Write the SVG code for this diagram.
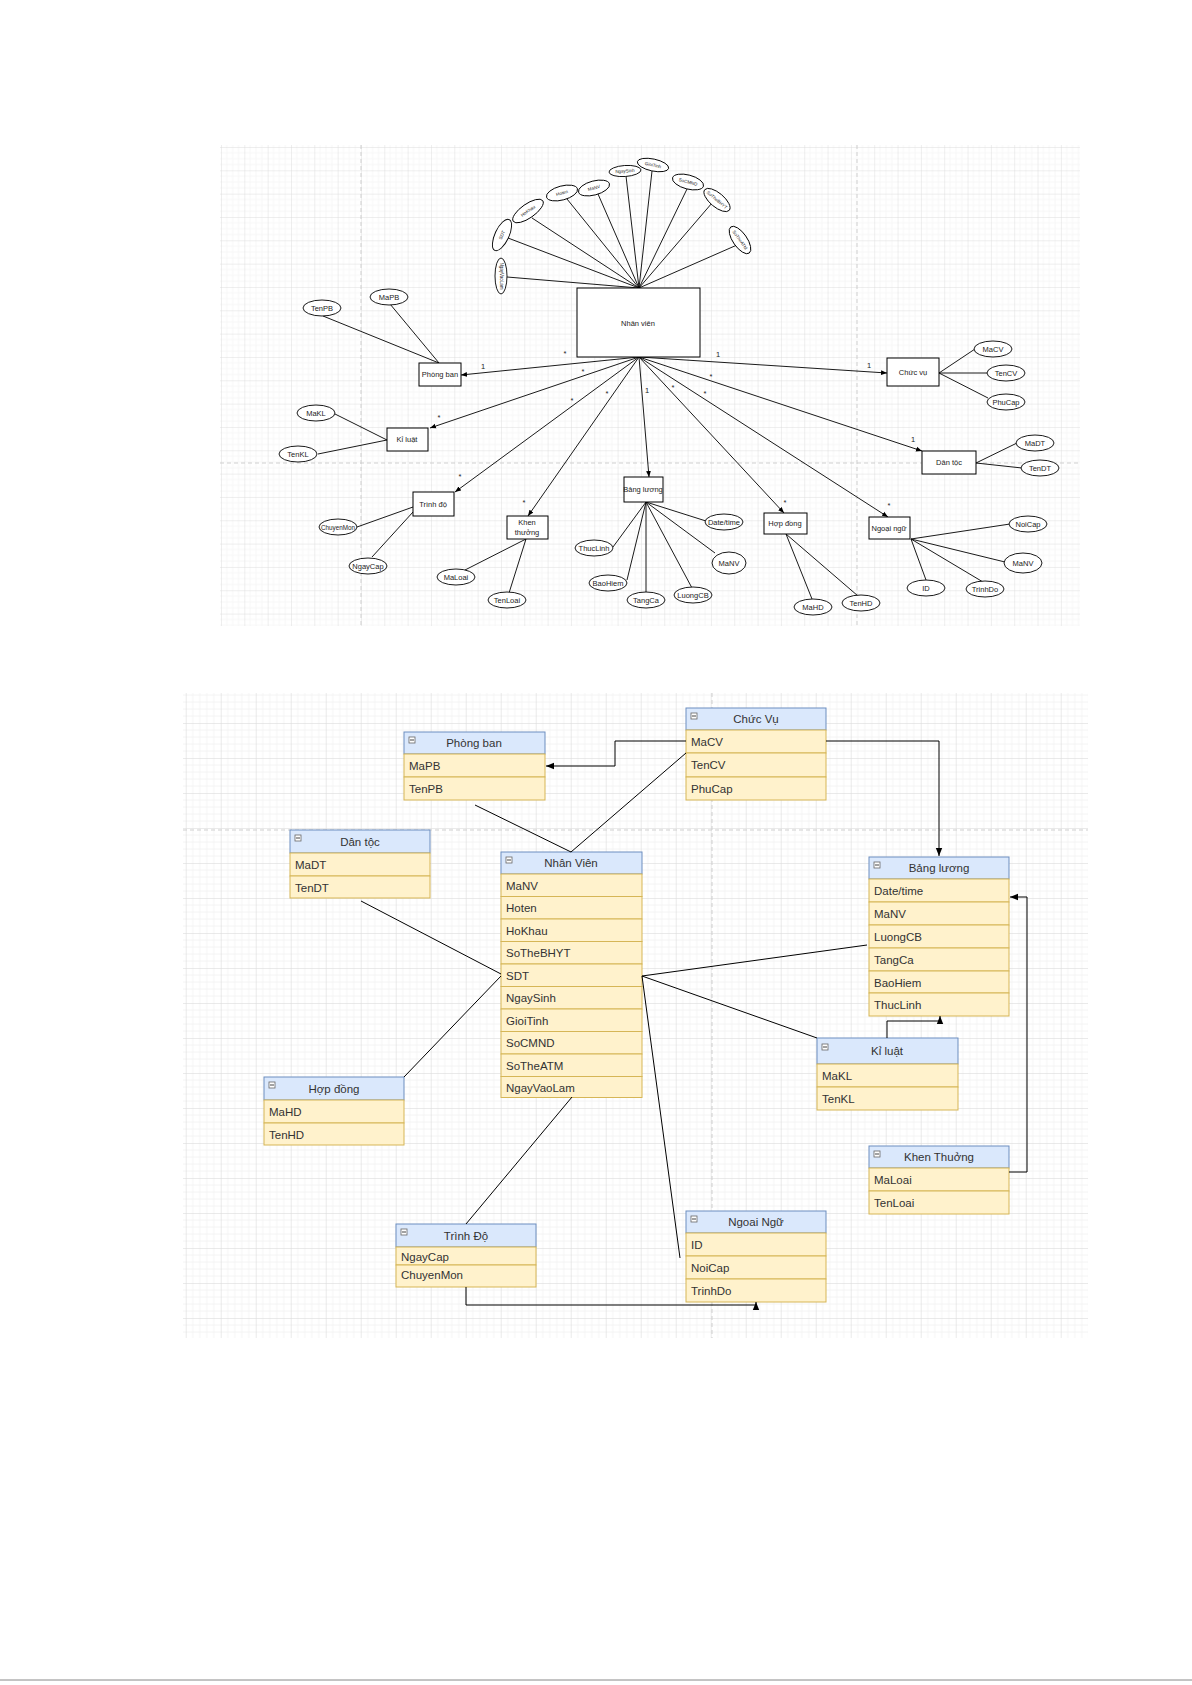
<svg xmlns="http://www.w3.org/2000/svg" width="1192" height="1685" viewBox="0 0 1192 1685">
<defs>
<pattern id="g1" x="221" y="147" width="23.33" height="23.33" patternUnits="userSpaceOnUse">
<path d="M5.83,0V23.33M11.66,0V23.33M17.5,0V23.33M0,5.83H23.33M0,11.66H23.33M0,17.5H23.33" stroke="#f3f3f3" stroke-width="0.7" fill="none"/>
<path d="M0,0V23.33M0,0H23.33" stroke="#dadada" stroke-width="0.9" fill="none"/>
</pattern>
<pattern id="g2" x="185.7" y="688" width="35" height="35" patternUnits="userSpaceOnUse">
<path d="M7,0V35M14,0V35M21,0V35M28,0V35M0,7H35M0,14H35M0,21H35M0,28H35" stroke="#f1f1f1" stroke-width="0.8" fill="none"/>
<path d="M0,0V35M0,0H35" stroke="#d6d6d6" stroke-width="1" fill="none"/>
</pattern>
<marker id="a" viewBox="0 0 10 10" refX="10" refY="5" markerWidth="6" markerHeight="6" markerUnits="userSpaceOnUse" orient="auto"><path d="M0,1L10,5L0,9Z" fill="#000"/></marker>
<marker id="b" viewBox="0 0 10 10" refX="10" refY="5" markerWidth="8" markerHeight="8" markerUnits="userSpaceOnUse" orient="auto"><path d="M0,1L10,5L0,9Z" fill="#000"/></marker>
</defs>
<style>
.t{font-family:"Liberation Sans",Arial,sans-serif;fill:#222}
.er{fill:#fff;stroke:#000;stroke-width:1}
.el{fill:#fff;stroke:#000;stroke-width:0.9}
.ln{stroke:#000;stroke-width:0.9;fill:none}
.s7{font-size:7.5px}
.s6{font-size:6.3px}
.s5{font-size:4.5px}
.hd{fill:#dae8fc;stroke:#6c8ebf;stroke-width:1}
.rw{fill:#fff2cc;stroke:#d6b656;stroke-width:1}
.tt{font-family:"Liberation Sans",Arial,sans-serif;font-size:11.5px;fill:#333}
.ic{fill:#fff;stroke:#666;stroke-width:0.8}
.dash{stroke:#cfcfcf;stroke-width:1;stroke-dasharray:4,3;fill:none}
.ln2{stroke:#000;stroke-width:1;fill:none}
</style>
<rect width="1192" height="1685" fill="#fff"/>

<!-- ============ TOP ER DIAGRAM ============ -->
<rect x="220" y="145" width="860" height="481" fill="url(#g1)"/>
<path class="dash" d="M220,463H1080M361,145V626M857,145V626"/>

<g id="top-connectors">
<g class="ln">
<path d="M639,288L507,277M639,288L508,238M639,288L532,218M639,288L567,199M639,288L598,194M639,288L626,176M639,288L652,171M639,288L687,189M639,288L712,203M639,288L737,245"/>
<path d="M439,363L323,316M439,363L390,304"/>
<path d="M939,373L975,349M939,373L987,373M939,373L988,398"/>
<path d="M387,440L333,413M387,440L318,454"/>
<path d="M413,507L357,527M413,512L372,557"/>
<path d="M526,539L465,570M526,539L509,593"/>
<path d="M646,502L706,521M646,502L715,553M646,502L692,588M646,502L646,592M646,502L627,580M646,502L613,547"/>
<path d="M786,534L812,599M786,534L858,596"/>
<path d="M911,539L1010,524M911,539L1005,562M911,539L983,582M911,539L926,580"/>
<path d="M976,463L1017,443M976,463L1022,468"/>
</g>
<g class="ln" marker-end="url(#a)">
<path d="M639,357L461,375"/>
<path d="M639,357L887,373"/>
<path d="M639,357L430,428"/>
<path d="M639,357L455,492"/>
<path d="M639,357L528,516"/>
<path d="M639,357L649,477"/>
<path d="M639,357L784,513"/>
<path d="M639,357L888,517"/>
<path d="M639,357L922,451"/>
</g>
<g class="t s7" text-anchor="middle">
<text x="565" y="356">*</text><text x="483" y="369">1</text>
<text x="718" y="357">1</text><text x="869" y="368">1</text>
<text x="583" y="374">*</text><text x="439" y="420">*</text>
<text x="572" y="403">*</text><text x="460" y="479">*</text>
<text x="607" y="396">*</text><text x="524" y="505">*</text>
<text x="647" y="393">1</text>
<text x="673" y="390">*</text><text x="785" y="505">*</text>
<text x="705" y="396">*</text><text x="889" y="508">*</text>
<text x="711" y="379">*</text><text x="913" y="442">1</text>
</g>
</g>

<g id="er-nhanvien"><rect class="er" x="577" y="288" width="123" height="69"/><text class="t s7" x="638" y="326" text-anchor="middle">Nhân viên</text></g>
<g id="er-phongban"><rect class="er" x="419" y="363" width="42" height="23"/><text class="t s7" x="440" y="377" text-anchor="middle">Phòng ban</text></g>
<g id="er-chucvu"><rect class="er" x="887" y="358" width="52" height="28"/><text class="t s7" x="913" y="375" text-anchor="middle">Chức vụ</text></g>
<g id="er-kiluat"><rect class="er" x="387" y="428" width="41" height="23"/><text class="t s7" x="407" y="442" text-anchor="middle">Kỉ luật</text></g>
<g id="er-dantoc"><rect class="er" x="922" y="451" width="54" height="23"/><text class="t s7" x="949" y="465" text-anchor="middle">Dân tộc</text></g>
<g id="er-trinhdo"><rect class="er" x="413" y="492" width="41" height="24"/><text class="t s7" x="433" y="507" text-anchor="middle">Trình độ</text></g>
<g id="er-khenthuong"><rect class="er" x="507" y="516" width="41" height="23"/><text class="t s7" x="527" y="525" text-anchor="middle">Khen</text><text class="t s7" x="527" y="535" text-anchor="middle">thưởng</text></g>
<g id="er-bangluong"><rect class="er" x="624" y="477" width="39" height="25"/><text class="t s7" x="643" y="492" text-anchor="middle">Bảng lương</text></g>
<g id="er-hopdong"><rect class="er" x="764" y="513" width="43" height="21"/><text class="t s7" x="785" y="526" text-anchor="middle">Hợp đồng</text></g>
<g id="er-ngoaingu"><rect class="er" x="869" y="517" width="41" height="22"/><text class="t s7" x="889" y="531" text-anchor="middle">Ngoại ngữ</text></g>

<g id="er-attr-nhanvien" class="t s5" text-anchor="middle">
<g transform="translate(501,276) rotate(90)"><ellipse class="el" rx="18" ry="6"/><text y="1.5">NgayVaoLam</text></g>
<g transform="translate(502,235) rotate(-65)"><ellipse class="el" rx="17" ry="7"/><text y="1.5">SDT</text></g>
<g transform="translate(528,211) rotate(-35)"><ellipse class="el" rx="18" ry="7"/><text y="1.5">HoKhau</text></g>
<g transform="translate(562,193) rotate(-15)"><ellipse class="el" rx="16" ry="7"/><text y="1.5">Hoten</text></g>
<g transform="translate(594,188) rotate(-15)"><ellipse class="el" rx="16" ry="7"/><text y="1.5">MaNV</text></g>
<g transform="translate(625,171) rotate(-4)"><ellipse class="el" rx="16" ry="5.5"/><text y="1.5">NgaySinh</text></g>
<g transform="translate(653,165) rotate(12)"><ellipse class="el" rx="16" ry="6"/><text y="1.5">GioiTinh</text></g>
<g transform="translate(688,182) rotate(15)"><ellipse class="el" rx="16" ry="7"/><text y="1.5">SoCMND</text></g>
<g transform="translate(717,200) rotate(40)"><ellipse class="el" rx="16" ry="7"/><text y="1.5">SoTheBHYT</text></g>
<g transform="translate(740,240) rotate(55)"><ellipse class="el" rx="16" ry="7"/><text y="1.5">SoTheATM</text></g>
</g>

<g id="er-attrs" class="t s7" text-anchor="middle">
<g id="a-tenpb"><ellipse class="el" cx="322" cy="308" rx="19" ry="8"/><text x="322" y="311">TenPB</text></g>
<g id="a-mapb"><ellipse class="el" cx="389" cy="297" rx="19" ry="8"/><text x="389" y="300">MaPB</text></g>
<g id="a-macv"><ellipse class="el" cx="993" cy="349" rx="19" ry="8"/><text x="993" y="352">MaCV</text></g>
<g id="a-tencv"><ellipse class="el" cx="1006" cy="373" rx="19" ry="8"/><text x="1006" y="376">TenCV</text></g>
<g id="a-phucap"><ellipse class="el" cx="1006" cy="402" rx="19" ry="8"/><text x="1006" y="405">PhuCap</text></g>
<g id="a-makl"><ellipse class="el" cx="316" cy="413" rx="19" ry="8"/><text x="316" y="416">MaKL</text></g>
<g id="a-tenkl"><ellipse class="el" cx="298" cy="454" rx="19" ry="8"/><text x="298" y="457">TenKL</text></g>
<g id="a-chuyenmon"><ellipse class="el" cx="338" cy="527" rx="19" ry="8"/><text class="s6" x="338" y="529.5">ChuyenMon</text></g>
<g id="a-ngaycap"><ellipse class="el" cx="368" cy="566" rx="19" ry="8"/><text x="368" y="569">NgayCap</text></g>
<g id="a-maloai"><ellipse class="el" cx="456" cy="577" rx="19" ry="8"/><text x="456" y="580">MaLoai</text></g>
<g id="a-tenloai"><ellipse class="el" cx="507" cy="600" rx="19" ry="8"/><text x="507" y="603">TenLoai</text></g>
<g id="a-datetime"><ellipse class="el" cx="724" cy="522" rx="19" ry="8"/><text x="724" y="525">Date/time</text></g>
<g id="a-manv1"><ellipse class="el" cx="729" cy="563" rx="17" ry="11"/><text x="729" y="566">MaNV</text></g>
<g id="a-luongcb"><ellipse class="el" cx="693" cy="595" rx="19" ry="8"/><text x="693" y="598">LuongCB</text></g>
<g id="a-tangca"><ellipse class="el" cx="646" cy="600" rx="19" ry="8"/><text x="646" y="603">TangCa</text></g>
<g id="a-baohiem"><ellipse class="el" cx="608" cy="583" rx="19" ry="8"/><text x="608" y="586">BaoHiem</text></g>
<g id="a-thuclinh"><ellipse class="el" cx="594" cy="548" rx="19" ry="8"/><text x="594" y="551">ThucLinh</text></g>
<g id="a-mahd"><ellipse class="el" cx="813" cy="607" rx="19" ry="8"/><text x="813" y="610">MaHD</text></g>
<g id="a-tenhd"><ellipse class="el" cx="861" cy="603" rx="19" ry="8"/><text x="861" y="606">TenHD</text></g>
<g id="a-noicap"><ellipse class="el" cx="1028" cy="524" rx="19" ry="8"/><text x="1028" y="527">NoiCap</text></g>
<g id="a-manv2"><ellipse class="el" cx="1023" cy="563" rx="19" ry="10"/><text x="1023" y="566">MaNV</text></g>
<g id="a-trinhdo"><ellipse class="el" cx="985" cy="589" rx="19" ry="8"/><text x="985" y="592">TrinhDo</text></g>
<g id="a-id"><ellipse class="el" cx="926" cy="588" rx="19" ry="8"/><text x="926" y="591">ID</text></g>
<g id="a-madt"><ellipse class="el" cx="1035" cy="443" rx="19" ry="8"/><text x="1035" y="446">MaDT</text></g>
<g id="a-tendt"><ellipse class="el" cx="1040" cy="468" rx="19" ry="8"/><text x="1040" y="471">TenDT</text></g>
</g>

<!-- ============ BOTTOM TABLE DIAGRAM ============ -->
<rect x="183" y="693" width="905" height="645" fill="url(#g2)"/>
<path class="dash" d="M183,830H1088M712,693V1338"/>

<g id="t-phongban">
<rect class="hd" x="404" y="732" width="141" height="22"/><rect class="ic" x="409" y="737" width="6" height="6"/><path d="M410,740H414" stroke="#444"/>
<text class="tt" x="474" y="747" text-anchor="middle">Phòng ban</text>
<rect class="rw" x="404" y="754" width="141" height="23"/><text class="tt" x="409" y="770">MaPB</text>
<rect class="rw" x="404" y="777" width="141" height="23"/><text class="tt" x="409" y="793">TenPB</text>
</g>
<g id="t-chucvu">
<rect class="hd" x="686" y="708" width="140" height="22"/><rect class="ic" x="691" y="713" width="6" height="6"/><path d="M692,716H696" stroke="#444"/>
<text class="tt" x="756" y="723" text-anchor="middle">Chức Vụ</text>
<rect class="rw" x="686" y="730" width="140" height="23"/><text class="tt" x="691" y="746">MaCV</text>
<rect class="rw" x="686" y="753" width="140" height="24"/><text class="tt" x="691" y="769">TenCV</text>
<rect class="rw" x="686" y="777" width="140" height="23"/><text class="tt" x="691" y="793">PhuCap</text>
</g>
<g id="t-dantoc">
<rect class="hd" x="290" y="830" width="140" height="23"/><rect class="ic" x="295" y="835" width="6" height="6"/><path d="M296,838H300" stroke="#444"/>
<text class="tt" x="360" y="846" text-anchor="middle">Dân tộc</text>
<rect class="rw" x="290" y="853" width="140" height="23"/><text class="tt" x="295" y="869">MaDT</text>
<rect class="rw" x="290" y="876" width="140" height="22"/><text class="tt" x="295" y="892">TenDT</text>
</g>
<g id="t-nhanvien">
<rect class="hd" x="501" y="852" width="141" height="22"/><rect class="ic" x="506" y="857" width="6" height="6"/><path d="M507,860H511" stroke="#444"/>
<text class="tt" x="571" y="867" text-anchor="middle">Nhân Viên</text>
<rect class="rw" x="501" y="874" width="141" height="22.5"/><text class="tt" x="506" y="889.5">MaNV</text>
<rect class="rw" x="501" y="896.5" width="141" height="22.5"/><text class="tt" x="506" y="912">Hoten</text>
<rect class="rw" x="501" y="919" width="141" height="22.5"/><text class="tt" x="506" y="934.5">HoKhau</text>
<rect class="rw" x="501" y="941.5" width="141" height="22.5"/><text class="tt" x="506" y="957">SoTheBHYT</text>
<rect class="rw" x="501" y="964" width="141" height="22.5"/><text class="tt" x="506" y="979.5">SDT</text>
<rect class="rw" x="501" y="986.5" width="141" height="22.5"/><text class="tt" x="506" y="1002">NgaySinh</text>
<rect class="rw" x="501" y="1009" width="141" height="22.5"/><text class="tt" x="506" y="1024.5">GioiTinh</text>
<rect class="rw" x="501" y="1031.5" width="141" height="22.5"/><text class="tt" x="506" y="1047">SoCMND</text>
<rect class="rw" x="501" y="1054" width="141" height="22.5"/><text class="tt" x="506" y="1069.5">SoTheATM</text>
<rect class="rw" x="501" y="1076.5" width="141" height="21"/><text class="tt" x="506" y="1092">NgayVaoLam</text>
</g>
<g id="t-bangluong">
<rect class="hd" x="869" y="857" width="140" height="22"/><rect class="ic" x="874" y="862" width="6" height="6"/><path d="M875,865H879" stroke="#444"/>
<text class="tt" x="939" y="872" text-anchor="middle">Bảng lương</text>
<rect class="rw" x="869" y="879" width="140" height="23"/><text class="tt" x="874" y="895">Date/time</text>
<rect class="rw" x="869" y="902" width="140" height="23"/><text class="tt" x="874" y="918">MaNV</text>
<rect class="rw" x="869" y="925" width="140" height="23"/><text class="tt" x="874" y="941">LuongCB</text>
<rect class="rw" x="869" y="948" width="140" height="23"/><text class="tt" x="874" y="964">TangCa</text>
<rect class="rw" x="869" y="971" width="140" height="22"/><text class="tt" x="874" y="987">BaoHiem</text>
<rect class="rw" x="869" y="993" width="140" height="23"/><text class="tt" x="874" y="1009">ThucLinh</text>
</g>
<g id="t-kiluat">
<rect class="hd" x="817" y="1038" width="141" height="26"/><rect class="ic" x="822" y="1044" width="6" height="6"/><path d="M823,1047H827" stroke="#444"/>
<text class="tt" x="887" y="1055" text-anchor="middle">Kỉ luật</text>
<rect class="rw" x="817" y="1064" width="141" height="23"/><text class="tt" x="822" y="1080">MaKL</text>
<rect class="rw" x="817" y="1087" width="141" height="23"/><text class="tt" x="822" y="1103">TenKL</text>
</g>
<g id="t-khenthuong">
<rect class="hd" x="869" y="1146" width="140" height="22"/><rect class="ic" x="874" y="1151" width="6" height="6"/><path d="M875,1154H879" stroke="#444"/>
<text class="tt" x="939" y="1161" text-anchor="middle">Khen Thuởng</text>
<rect class="rw" x="869" y="1168" width="140" height="23"/><text class="tt" x="874" y="1184">MaLoai</text>
<rect class="rw" x="869" y="1191" width="140" height="23"/><text class="tt" x="874" y="1207">TenLoai</text>
</g>
<g id="t-hopdong">
<rect class="hd" x="264" y="1077" width="140" height="23"/><rect class="ic" x="269" y="1082" width="6" height="6"/><path d="M270,1085H274" stroke="#444"/>
<text class="tt" x="334" y="1093" text-anchor="middle">Hợp đồng</text>
<rect class="rw" x="264" y="1100" width="140" height="23"/><text class="tt" x="269" y="1116">MaHD</text>
<rect class="rw" x="264" y="1123" width="140" height="22"/><text class="tt" x="269" y="1139">TenHD</text>
</g>
<g id="t-ngoaingu">
<rect class="hd" x="686" y="1211" width="140" height="22"/><rect class="ic" x="691" y="1216" width="6" height="6"/><path d="M692,1219H696" stroke="#444"/>
<text class="tt" x="756" y="1226" text-anchor="middle">Ngoai Ngữ</text>
<rect class="rw" x="686" y="1233" width="140" height="23"/><text class="tt" x="691" y="1249">ID</text>
<rect class="rw" x="686" y="1256" width="140" height="23"/><text class="tt" x="691" y="1272">NoiCap</text>
<rect class="rw" x="686" y="1279" width="140" height="23"/><text class="tt" x="691" y="1295">TrinhDo</text>
</g>
<g id="t-trinhdo">
<rect class="hd" x="396" y="1224" width="140" height="23"/><rect class="ic" x="401" y="1229" width="6" height="6"/><path d="M402,1232H406" stroke="#444"/>
<text class="tt" x="466" y="1240" text-anchor="middle">Trình Độ</text>
<rect class="rw" x="396" y="1247" width="140" height="18"/><text class="tt" x="401" y="1261">NgayCap</text>
<rect class="rw" x="396" y="1265" width="140" height="22"/><text class="tt" x="401" y="1279">ChuyenMon</text>
</g>

<g id="bottom-connectors">
<g class="ln2">
<path d="M686,753L571,852"/>
<path d="M475,805L571,852"/>
<path d="M361,901L501,974"/>
<path d="M404,1077L501,976"/>
<path d="M572,1097L466,1224"/>
<path d="M642,976L867,945"/>
<path d="M642,976L817,1038"/>
<path d="M642,976L680,1258"/>
</g>
<g class="ln2" marker-end="url(#b)">
<path d="M686,741H615V766H546"/>
<path d="M826,741H939V856"/>
<path d="M466,1287V1305H756V1302"/>
<path d="M887,1038V1021H940V1016"/>
<path d="M1009,1172H1027V897H1010"/>
</g>
</g>

<line x1="0" y1="1680" x2="1192" y2="1680" stroke="#888" stroke-width="1"/>
</svg>
